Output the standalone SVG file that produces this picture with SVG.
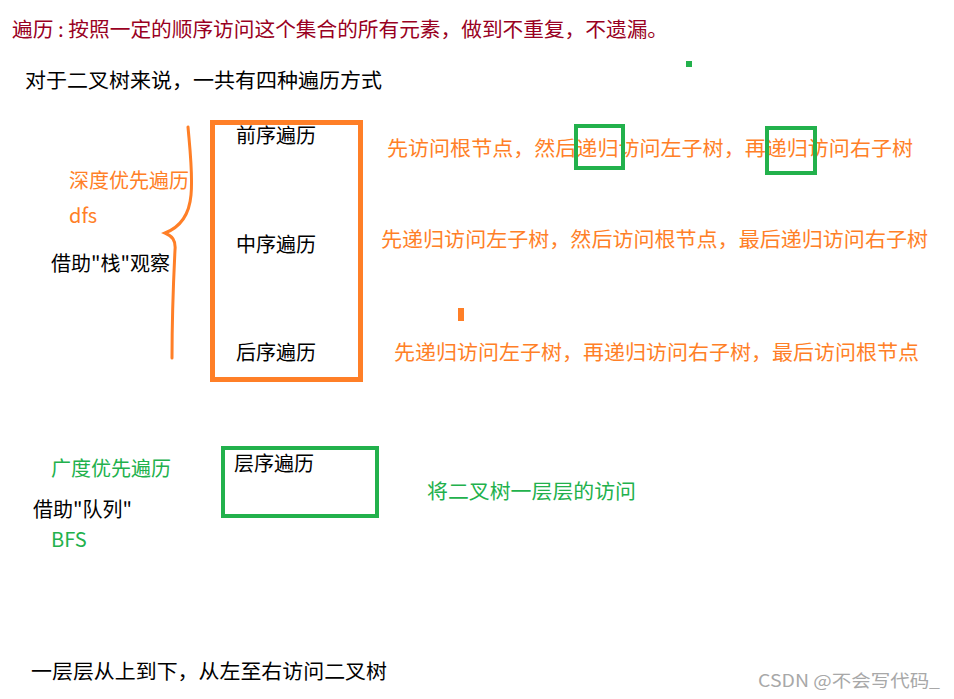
<svg xmlns="http://www.w3.org/2000/svg" width="954" height="699" viewBox="0 0 954 699">
<style>
text{font-family:"Microsoft YaHei","Noto Sans CJK SC","Noto Sans",sans-serif;font-size:20px;}
.k{fill:#000}
.o{fill:#FF7F27}
.g{fill:#22B14C}
.r{fill:#990022}
.w{fill:#A8A8A8;font-size:17px}
.ob{fill:none;stroke:#FF7F27;stroke-width:5}
.gb{fill:none;stroke:#22B14C;stroke-width:4}
</style>
<rect width="954" height="699" fill="#fff"/>
<g id="title">
<text class="r" x="12" y="37" textLength="656" lengthAdjust="spacingAndGlyphs">遍历 : 按照一定的顺序访问这个集合的所有元素，做到不重复，不遗漏。</text>
<text class="k" x="25" y="88" textLength="357" lengthAdjust="spacingAndGlyphs">对于二叉树来说，一共有四种遍历方式</text>
</g>
<rect x="686" y="61" width="6" height="6" fill="#22B14C"/>
<rect x="458" y="308" width="6" height="13" fill="#FF7F27"/>
<g id="dfs">
<text class="o" x="69" y="188">深度优先遍历</text>
<text class="o" x="69" y="223">dfs</text>
<text class="k" x="51" y="271">借助"栈"观察</text>
</g>
<g id="connectors">
<path d="M188,127 C190,150 193,175 191,195 C189,218 178,228 165,233 C172,236 176,240 175,250 C173,290 172,330 172,358" fill="none" stroke="#FF7F27" stroke-width="3" stroke-linecap="round"/>
</g>
<g id="dfsbox">
<rect class="ob" x="212.5" y="122.5" width="148" height="257"/>
<text class="k" x="236" y="143">前序遍历</text>
<text class="k" x="236" y="252">中序遍历</text>
<text class="k" x="236" y="360">后序遍历</text>
</g>
<g id="desc">
<text class="o" x="387" y="156" textLength="526" lengthAdjust="spacingAndGlyphs">先访问根节点，然后递归访问左子树，再递归访问右子树</text>
<text class="o" x="381" y="247" textLength="547" lengthAdjust="spacingAndGlyphs">先递归访问左子树，然后访问根节点，最后递归访问右子树</text>
<text class="o" x="394" y="360" textLength="525" lengthAdjust="spacingAndGlyphs">先递归访问左子树，再递归访问右子树，最后访问根节点</text>
<rect class="gb" x="576" y="126" width="47" height="42"/>
<rect class="gb" x="767" y="128" width="48" height="45"/>
</g>
<g id="bfs">
<text class="g" x="51" y="476">广度优先遍历</text>
<text class="k" x="33" y="517">借助"队列"</text>
<text class="g" x="51" y="547">BFS</text>
</g>
<g id="bfsbox">
<rect class="gb" x="223" y="448" width="154" height="68"/>
<text class="k" x="234" y="471">层序遍历</text>
</g>
<text class="g" x="427" y="499" textLength="209" lengthAdjust="spacingAndGlyphs">将二叉树一层层的访问</text>
<text class="k" x="31" y="679" textLength="356" lengthAdjust="spacingAndGlyphs">一层层从上到下，从左至右访问二叉树</text>
<text class="w" x="758" y="687" textLength="182" lengthAdjust="spacingAndGlyphs">CSDN @不会写代码_</text>
</svg>
